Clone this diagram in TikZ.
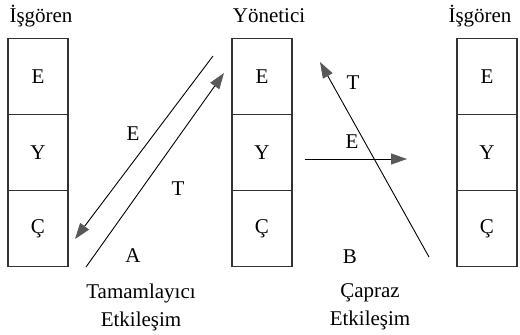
\documentclass[tikz,border=0pt]{standalone}
\usepackage{fontspec}
\setmainfont{Liberation Serif}
\usetikzlibrary{arrows.meta}
\tikzset{
    cell/.style={draw=black!80, line width=1.1pt, minimum width=60pt,
                 minimum height=76pt, inner sep=0pt, font=\fontsize{21}{23}\selectfont},
    flow/.style={-{Triangle[length=16pt,width=11pt,color=black!65]}, line width=0.9pt},
    note/.style={font=\fontsize{21}{28}\selectfont, align=center, inner sep=0pt},
}

\begin{document}
\begin{tikzpicture}[x=1pt, y=-1pt]
    \path[use as bounding box] (0,0) rectangle (520,335);

    % ego state stacks
    \foreach \col/\x in {l/38, m/262, r/487}{
        \node[cell] (\col E) at (\x,76.5) {E};
        \node[cell] (\col Y) at (\x,152.5) {Y};
        \node[cell] (\col C) at (\x,228.5) {Ç};
    }
    \node[note] (lhead) at (41,16) {İşgören};
    \node[note] (mhead) at (269,16) {Yönetici};
    \node[note] (rhead) at (480,16) {İşgören};

    % complementary
    \coordinate (eStart) at (213,56);
    \coordinate (eEnd) at (75,239);
    \coordinate (tStart) at (86,267);
    \coordinate (tEnd) at (224,73);
    \draw[flow] (eStart) -- (eEnd);
    \draw[flow] (tStart) -- (tEnd);
    \node[note] (eLabel) at (133,134) {E};
    \node[note] (tLabel) at (178,189) {T};
    \node[note] (aLabel) at (133,256) {A};
    \node[note] (compl) at (141,307) {Tamamlayıcı\\Etkileşim};

    % crossed
    \coordinate (xStart) at (429,257);
    \coordinate (xEnd) at (320,62);
    \coordinate (hStart) at (305,159);
    \coordinate (hEnd) at (407,159);
    \draw[flow] (xStart) -- (xEnd);
    \draw[flow] (hStart) -- (hEnd);
    \node[note] (xT) at (353,83) {T};
    \node[note] (xE) at (352,142) {E};
    \node[note] (xB) at (350,257) {B};
    \node[note] (cross) at (370,307) {Çapraz\\Etkileşim};

\end{tikzpicture}
\end{document}
